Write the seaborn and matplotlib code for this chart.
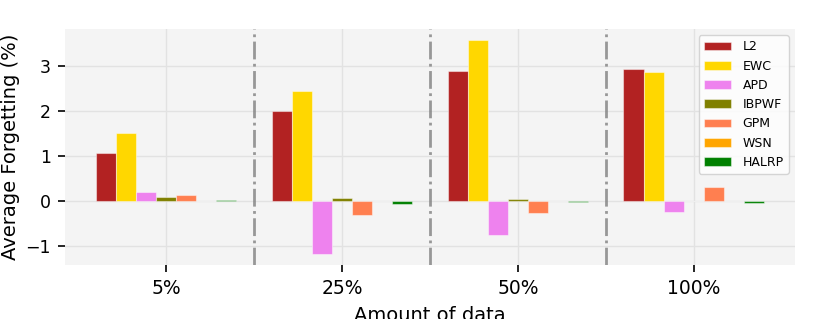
import numpy as np
import pandas as pd
import seaborn as sns
import matplotlib
matplotlib.use("Agg")
import matplotlib.pyplot as plt

# forgetting values
amounts = ['5%', '25%', '50%', '100%']
methods = ['L2', 'EWC', 'APD', 'IBPWF', 'GPM', 'WSN', 'HALRP']
l2 = [1.07, 2.01, 2.90, 2.95]
ewc = [1.51, 2.46, 3.59, 2.87]
apd = [0.19, -1.19, -0.76, -0.24]
ibpwf = [0.08, 0.065, 0.035, -0.005]
gpm = [0.13, -0.32, -0.28, 0.30]
wsn = [0.003, -0.005, 0.003, 0.002]
halrp = [0.01, -0.06, -0.025, -0.045]
colors = ['firebrick', 'gold', 'violet', 'olive', 'coral', 'orange', 'green']

series = [l2, ewc, apd, ibpwf, gpm, wsn, halrp]
rows = []
for m, vals in zip(methods, series):
    for a, v in zip(amounts, vals):
        rows.append({'amount': a, 'method': m, 'value': v})
df = pd.DataFrame(rows)

plt.style.use('default')
plt.rcParams['font.family'] = ['DejaVu Sans']
plt.rcParams['axes.facecolor'] = '#f4f4f4'

fig, ax = plt.subplots(figsize=(8.3, 3.19), dpi=100)
fig.subplots_adjust(left=0.0783, right=0.9578, top=0.909, bottom=0.169)

sns.barplot(data=df, x='amount', y='value', hue='method', order=amounts,
            hue_order=methods, palette=dict(zip(methods, colors)), width=0.8,
            saturation=1, edgecolor=(1, 1, 1, 0.45), linewidth=0.8, ax=ax)

for x in [0.5, 1.5, 2.5]:
    ax.axvline(x, color='grey', linestyle='-.', linewidth=2, alpha=0.8, zorder=3)

ax.grid(True, axis='both', color='#e2e2e2', linewidth=1)
ax.set_axisbelow(True)
ax.set_xlim(-0.575, 3.575)
ax.set_ylim(-1.43, 3.83)
ax.set_yticks([-1, 0, 1, 2, 3])
for s in ax.spines.values():
    s.set_visible(False)
ax.tick_params(axis='x', labelsize=13.5)
ax.tick_params(axis='y', labelsize=12.5)
ax.tick_params(axis='both', which='major', direction='out', length=5,
               width=1.2, color='black', left=True, bottom=True, pad=5)

ax.set_xlabel('Amount of data', fontsize=14, labelpad=6)
ax.set_ylabel('Average Forgetting (%)', fontsize=14, labelpad=4)

ax.legend(loc='upper right', fontsize=9, frameon=True, facecolor='white',
          edgecolor='#cccccc', labelspacing=0.5, handlelength=2.2,
          handletextpad=0.9, borderaxespad=0.5, title=None)

fig.savefig('out.png', dpi=100)
